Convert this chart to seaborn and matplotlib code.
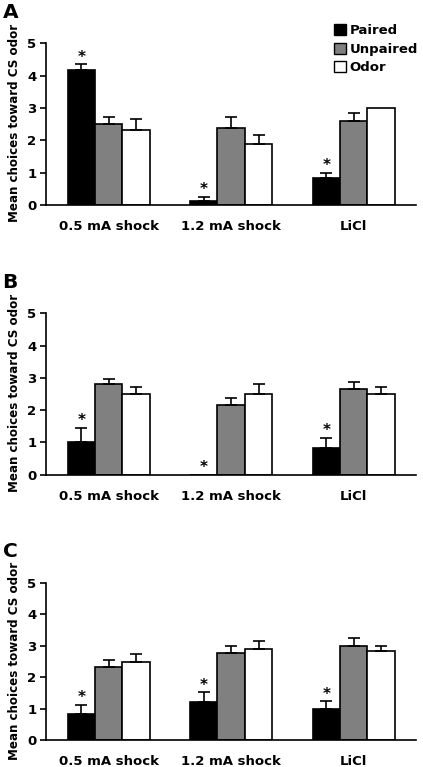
import numpy as np
import pandas as pd
import seaborn as sns
import matplotlib.pyplot as plt
from matplotlib.patches import Patch

# Conditions and groups
conditions = ['0.5 mA shock', '1.2 mA shock', 'LiCl']
groups = ['Paired', 'Unpaired', 'Odor']
colors = ['black', '#808080', 'white']

# Panel A: mean (rows = groups, cols = conditions) and SEM
mean_a = [[4.18, 0.12, 0.82],
          [2.50, 2.39, 2.60],
          [2.33, 1.88, 3.00]]
sem_a = [[0.17, 0.14, 0.17],
         [0.23, 0.32, 0.24],
         [0.34, 0.29, 0.00]]

# Panel B
mean_b = [[1.00, 0.00, 0.84],
          [2.82, 2.16, 2.67],
          [2.49, 2.49, 2.49]]
sem_b = [[0.45, 0.00, 0.30],
         [0.16, 0.23, 0.21],
         [0.23, 0.31, 0.23]]

# Panel C
mean_c = [[0.82, 1.21, 0.98],
          [2.32, 2.76, 2.99],
          [2.49, 2.88, 2.83]]
sem_c = [[0.30, 0.31, 0.26],
         [0.23, 0.22, 0.26],
         [0.23, 0.27, 0.15]]

# significance stars (Paired bars in every panel)
stars = [[True, True, True],
         [True, True, True],
         [True, True, True]]

panel_letters = ['A', 'B', 'C']
ylabel = 'Mean choices toward CS odor'

sns.set_style('ticks')
plt.rcParams['font.family'] = ['DejaVu Sans']
plt.rcParams['font.weight'] = 'bold'
plt.rcParams['text.color'] = 'black'
plt.rcParams['axes.labelcolor'] = 'black'
plt.rcParams['xtick.color'] = 'black'
plt.rcParams['ytick.color'] = 'black'

fig = plt.figure(figsize=(4.23, 7.67), dpi=100)
# axes rectangles [left, bottom, width, height]
rects = [[0.109, 0.7327, 0.875, 0.211],
         [0.109, 0.381, 0.875, 0.2104],
         [0.109, 0.0352, 0.875, 0.205]]

for p, (means, sems) in enumerate([(mean_a, sem_a), (mean_b, sem_b), (mean_c, sem_c)]):
    rows = []
    for g, grp in enumerate(groups):
        for c, cond in enumerate(conditions):
            rows.append({'condition': cond, 'group': grp,
                         'value': means[g][c], 'sem': sems[g][c]})
    df = pd.DataFrame(rows)

    ax = fig.add_axes(rects[p])
    sns.barplot(data=df, x='condition', y='value', hue='group',
                order=conditions, hue_order=groups,
                palette=colors, width=0.67, errorbar=None,
                edgecolor='black', linewidth=1.2, legend=False, ax=ax)
    bar_containers = list(ax.containers)

    # upper error bars and stars, positioned from the drawn bars
    for g, container in enumerate(bar_containers):
        for c, bar in enumerate(container.patches):
            xc = bar.get_x() + bar.get_width() / 2
            top = means[g][c]
            err = sems[g][c]
            if err > 0:
                ax.errorbar(xc, top, yerr=[[0], [err]], fmt='none',
                            ecolor='black', elinewidth=1.2, capsize=4,
                            capthick=1.2, zorder=1)
            if g == 0 and stars[p][c]:
                ax.text(xc, top + err + 0.22, '*', ha='center', va='center',
                        fontsize=11, fontweight='bold')

    ax.set_xlim(-0.51, 2.51)
    ax.set_ylim(0, 5)
    ax.set_yticks([0, 1, 2, 3, 4, 5])
    ax.set_xlabel('')
    ax.set_ylabel(ylabel, fontsize=8.6, fontweight='bold')
    ax.yaxis.set_label_coords(-0.068, 0.505)
    ax.tick_params(axis='y', length=4, width=1.2, labelsize=9.5, pad=3)
    ax.tick_params(axis='x', length=0, labelsize=9.5, pad=11)
    for lab in ax.get_xticklabels() + ax.get_yticklabels():
        lab.set_fontweight('bold')
    sns.despine(ax=ax)
    for s in ['left', 'bottom']:
        ax.spines[s].set_linewidth(1.2)
        ax.spines[s].set_color('black')

    fig.text(0.006, rects[p][1] + rects[p][3] + 0.053,
             panel_letters[p], fontsize=14.5, fontweight='bold', va='top')

    if p == 0:
        handles = [Patch(facecolor=col, edgecolor='black', linewidth=1.0, label=grp)
                   for grp, col in zip(groups, colors)]
        fig.legend(handles=handles, loc='upper left',
                   bbox_to_anchor=(0.778, 0.975), frameon=False,
                   prop={'weight': 'bold', 'size': 9.5},
                   handlelength=0.9, handleheight=0.9, handletextpad=0.25,
                   labelspacing=0.4, borderaxespad=0)

fig.savefig('out.png', dpi=100)
